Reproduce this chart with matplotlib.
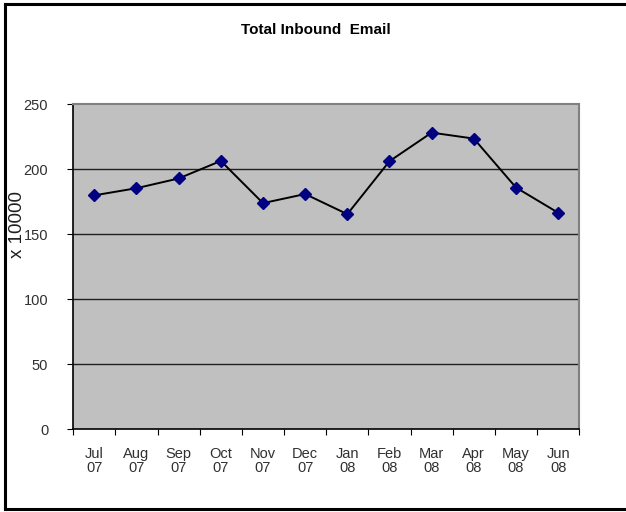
import matplotlib
matplotlib.use("Agg")
import matplotlib.pyplot as plt
from matplotlib.lines import Line2D

months = ["Jul\n07", "Aug\n07", "Sep\n07", "Oct\n07", "Nov\n07", "Dec\n07",
          "Jan\n08", "Feb\n08", "Mar\n08", "Apr\n08", "May\n08", "Jun\n08"]
emails = [180, 185.5, 193, 206.5, 174, 181, 165.5, 206.3, 228.3, 223.7, 186, 166.6]
y_ticks = [0, 50, 100, 150, 200, 250]

plt.rcParams['font.family'] = ['Liberation Sans', 'DejaVu Sans']

fig = plt.figure(figsize=(6.26, 5.12), dpi=100)
ax = fig.add_axes([0.117, 0.162, 0.8083, 0.634])
ax.set_facecolor("#c0c0c0")

x = list(range(len(months)))
ax.plot(x, emails, color="black", lw=1.4, marker="D", markersize=6,
        markerfacecolor="#000080", markeredgecolor="#000080", zorder=3)

ax.set_xlim(-0.5, len(months) - 0.5)
ax.set_ylim(0, 250)
ax.set_yticks(y_ticks)
ax.set_yticklabels([str(v) for v in y_ticks])
for v in y_ticks[1:-1]:
    ax.axhline(v, color="#202020", lw=1, zorder=1)

# category ticks between months, labels at centres
ax.set_xticks([i - 0.5 for i in range(len(months) + 1)])
ax.set_xticklabels([])
ax.set_xticks(x, minor=True)
ax.set_xticklabels(months, minor=True, linespacing=1.0)
ax.tick_params(axis="x", which="minor", length=0, pad=13, labelsize=10.5, labelcolor="#303030")
ax.tick_params(axis="x", which="major", length=4, direction="out", color="black")
ax.tick_params(axis="y", length=4, direction="out", pad=14, labelsize=10.5, labelcolor="#303030")

for side in ["top", "right"]:
    ax.spines[side].set_color("#808080")
    ax.spines[side].set_linewidth(1.5)
for side in ["left", "bottom"]:
    ax.spines[side].set_color("black")
    ax.spines[side].set_linewidth(1.2)

fig.text(316 / 626, 1 - 30 / 512, "Total Inbound  Email", ha="center", va="center",
         fontsize=11, fontweight="bold")
fig.text(17 / 626, 1 - 224 / 512, "x 10000", ha="center", va="center",
         rotation=90, fontsize=13.5, color="#202020")

# outer chart border
fig.add_artist(Line2D([4.5 / 626, 4.5 / 626], [1 - 4 / 512, 1 - 509 / 512],
                      transform=fig.transFigure, color="black", lw=2.2))
fig.add_artist(Line2D([4.5 / 626, 1], [1 - 4 / 512, 1 - 4 / 512],
                      transform=fig.transFigure, color="black", lw=2.2))
fig.add_artist(Line2D([4.5 / 626, 1], [1 - 509 / 512, 1 - 509 / 512],
                      transform=fig.transFigure, color="black", lw=2.2))

fig.savefig("out.png", dpi=100)
